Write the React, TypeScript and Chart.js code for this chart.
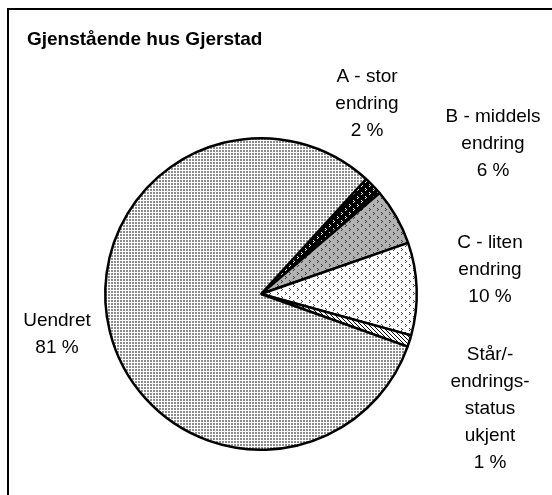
import React, { useEffect, useRef } from "react";
import { Chart, registerables } from "chart.js";

Chart.register(...registerables);

const TITLE = "Gjenstående hus Gjerstad";
const CATEGORIES = ["A - stor endring", "B - middels endring", "C - liten endring", "Står/-endringsstatus ukjent", "Uendret"];
const LABEL_LINES = [
  ["A - stor", "endring"],
  ["B - middels", "endring"],
  ["C - liten", "endring"],
  ["Står/-", "endrings-", "status", "ukjent"],
  ["Uendret"],
];
const VALUES = [2.0, 5.9, 9.6, 1.2, 81.3];

// label anchor (first line centre) offsets from the pie centre, in px
const LABEL_OFFSETS = [
  [106, -217],
  [232, -177],
  [229, -51],
  [229, 61],
  [-204, 27],
];

function makePattern(size: number, bg: string, fg: string, pts: number[][]): CanvasPattern | string {
  const c = document.createElement("canvas");
  c.width = size;
  c.height = size;
  const ctx = c.getContext("2d");
  if (!ctx) return bg;
  ctx.fillStyle = bg;
  ctx.fillRect(0, 0, size, size);
  ctx.fillStyle = fg;
  for (const [x, y, w, h] of pts) ctx.fillRect(x, y, w ?? 1, h ?? 1);
  const p = ctx.createPattern(c, "repeat");
  return p ?? bg;
}

function chevronPts(ox: number, oy: number) {
  return [
    [ox, oy],
    [ox + 1, oy + 1],
    [ox, oy + 2],
  ];
}

export default function App() {
  const ref = useRef<HTMLCanvasElement | null>(null);
  useEffect(() => {
    if (!ref.current) return;
    const patterns = [
      makePattern(8, "#000000", "#ffffff", [...chevronPts(1, 0), ...chevronPts(5, 4)]),
      makePattern(8, "#b2b2b2", "#3a3a3a", [...chevronPts(1, 0), ...chevronPts(5, 4)]),
      makePattern(8, "#ffffff", "#3a3a3a", [...chevronPts(1, 0), ...chevronPts(5, 4)]),
      makePattern(4, "#ffffff", "#000000", [[0, 0], [1, 1], [2, 2], [3, 3]]),
      makePattern(3, "#ffffff", "#8c8c8c", [[0, 0, 2, 2]]),
    ];

    const framePlugin = {
      id: "frameAndLabels",
      afterDraw(chart: any) {
        const ctx = chart.ctx as CanvasRenderingContext2D;
        ctx.save();
        ctx.fillStyle = "#000";
        ctx.fillRect(7, 8, 552, 2);
        ctx.fillRect(7, 8, 2, 495);
        ctx.font = "bold 19px 'Liberation Sans', Arial, sans-serif";
        ctx.textAlign = "left";
        ctx.textBaseline = "middle";
        ctx.fillText(TITLE, 27, 40);

        const meta = chart.getDatasetMeta(0);
        const arc0 = meta.data[0];
        const cx = arc0.x;
        const cy = arc0.y;
        const total = VALUES.reduce((a, b) => a + b, 0);
        ctx.font = "19px 'Liberation Sans', Arial, sans-serif";
        ctx.textAlign = "center";
        LABEL_LINES.forEach((lines, i) => {
          const [dx, dy] = LABEL_OFFSETS[i];
          const all = [...lines, `${Math.round((VALUES[i] / total) * 100)} %`];
          all.forEach((t, j) => {
            ctx.fillText(t, cx + dx, cy + dy + j * 27);
          });
        });
        ctx.restore();
      },
    };

    const chart = new Chart(ref.current, {
      type: "pie",
      data: {
        labels: CATEGORIES,
        datasets: [
          {
            data: VALUES,
            backgroundColor: patterns as any,
            borderColor: "#000000",
            borderWidth: 2.5,
            hoverOffset: 0,
          },
        ],
      },
      options: {
        animation: false,
        responsive: false,
        rotation: 42.4,
        layout: { padding: { left: 104, right: 134, top: 137, bottom: 44 } },
        plugins: {
          legend: { display: false },
          tooltip: { enabled: false },
          title: { display: false },
        },
        events: [],
      },
      plugins: [framePlugin],
    });
    return () => chart.destroy();
  }, []);

  return (
    <div style={{ position: "fixed", left: 0, top: 0, width: 552, height: 495, background: "#fff" }}>
      <canvas ref={ref} width={552} height={495} style={{ display: "block", width: 552, height: 495 }} />
    </div>
  );
}
